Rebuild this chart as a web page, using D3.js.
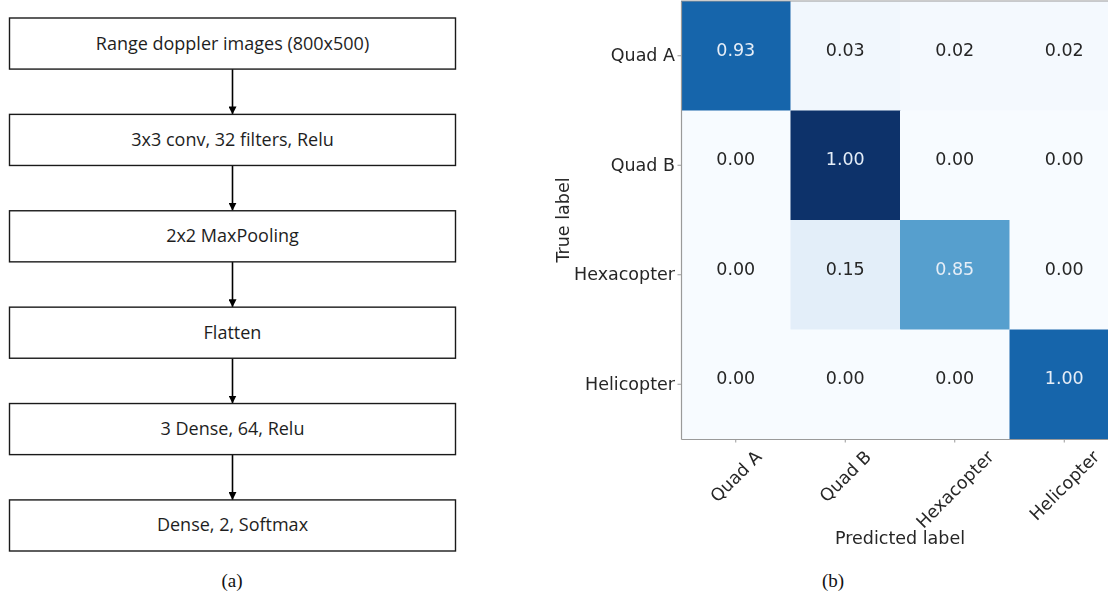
<!DOCTYPE html>
<html>
<head>
<meta charset="utf-8">
<script src="https://cdn.jsdelivr.net/npm/d3@7"></script>
<style>
  html, body { margin: 0; padding: 0; background: #fff; }
  svg { display: block; }
</style>
</head>
<body>
<svg id="fig" width="1108" height="597"></svg>
<script>
// ---- (a) network layers, top to bottom ----
const layers = [
  "Range doppler images (800x500)",
  "3x3 conv, 32 filters, Relu",
  "2x2 MaxPooling",
  "Flatten",
  "3 Dense, 64, Relu",
  "Dense, 2, Softmax"
];

// ---- (b) confusion matrix ----
const classes = ["Quad A", "Quad B", "Hexacopter", "Helicopter"];
// row-normalised rates printed in each cell (rows = true, cols = predicted)
const rates = [
  [0.93, 0.03, 0.02, 0.02],
  [0.00, 1.00, 0.00, 0.00],
  [0.00, 0.15, 0.85, 0.00],
  [0.00, 0.00, 0.00, 1.00]
];
// raw sample counts that drive the cell shading
const counts = [
  [55, 2, 1, 1],
  [0, 69, 0, 0],
  [0, 7, 39, 0],
  [0, 0, 0, 55]
];
const captions = ["(a)", "(b)"];

const svg = d3.select("#fig");
svg.append("rect").attr("width", 1108).attr("height", 597).attr("fill", "#fff");

// ================= (a) flowchart =================
const flowFont = "'Open Sans', Lato, sans-serif";
const boxX0 = 9.5, boxX1 = 455.5;
const boxCx = (boxX0 + boxX1) / 2;
const yBox = d3.scaleBand()
  .domain(d3.range(layers.length))
  .range([18, 551])
  .paddingInner(0.47)
  .paddingOuter(0);

const defs = svg.append("defs");
defs.append("marker")
  .attr("id", "arrowHead")
  .attr("viewBox", "0 0 10 10")
  .attr("refX", 10).attr("refY", 5)
  .attr("markerWidth", 8).attr("markerHeight", 8)
  .attr("markerUnits", "userSpaceOnUse")
  .attr("orient", "auto")
  .append("path")
  .attr("d", "M0,0 L10,5 L0,10 Z")
  .attr("fill", "#000");

defs.append("filter")
  .attr("id", "soft")
  .attr("x", "-5%").attr("y", "-5%").attr("width", "110%").attr("height", "110%")
  .append("feGaussianBlur").attr("stdDeviation", 0.45);

const flow = svg.append("g").attr("class", "flow");

// connecting arrows
flow.selectAll("line.arrow")
  .data(d3.range(layers.length - 1))
  .join("line")
  .attr("class", "arrow")
  .attr("x1", boxCx).attr("x2", boxCx)
  .attr("y1", i => yBox(i) + yBox.bandwidth())
  .attr("y2", i => yBox(i + 1))
  .attr("stroke", "#000")
  .attr("stroke-width", 1.6)
  .attr("marker-end", "url(#arrowHead)");

const boxes = flow.selectAll("g.box")
  .data(layers)
  .join("g")
  .attr("class", "box")
  .attr("transform", (d, i) => `translate(0,${yBox(i)})`);

boxes.append("rect")
  .attr("x", boxX0).attr("y", 0)
  .attr("width", boxX1 - boxX0)
  .attr("height", yBox.bandwidth())
  .attr("fill", "#fff")
  .attr("stroke", "#1a1a1a")
  .attr("stroke-width", 1.4);

boxes.append("text")
  .attr("x", boxCx)
  .attr("y", yBox.bandwidth() / 2 + 6)
  .attr("text-anchor", "middle")
  .attr("font-family", flowFont)
  .attr("font-size", 18)
  .attr("fill", "#1e1e1e")
  .text(d => d);

// ================= (b) confusion matrix =================
const mFont = "'DejaVu Sans', sans-serif";
const mSize = 17.5;
const textDark = "#262626";

const x = d3.scaleBand().domain(classes).range([681, 1119]);
const y = d3.scaleBand().domain(classes).range([1, 439]);
const maxCount = d3.max(counts.flat());
const color = d3.scaleSequential(d3.interpolateBlues).domain([0, maxCount]);

const cm = svg.append("g").attr("class", "matrix").attr("filter", "url(#soft)");

const cells = [];
classes.forEach((t, i) => classes.forEach((p, j) => {
  cells.push({ t, p, rate: rates[i][j], count: counts[i][j] });
}));

cm.selectAll("rect.cell")
  .data(cells)
  .join("rect")
  .attr("class", "cell")
  .attr("x", d => x(d.p))
  .attr("y", d => y(d.t))
  .attr("width", x.bandwidth() + 0.5)
  .attr("height", y.bandwidth() + 0.5)
  .attr("fill", d => color(d.count));

// cell annotations sit slightly above the row centre
cm.selectAll("text.val")
  .data(cells)
  .join("text")
  .attr("class", "val")
  .attr("x", d => x(d.p) + x.bandwidth() / 2)
  .attr("y", d => y(d.t) + y.bandwidth() / 2 - 6)
  .attr("dy", "0.35em")
  .attr("text-anchor", "middle")
  .attr("font-family", mFont)
  .attr("font-size", mSize)
  .attr("fill", d => d.count > maxCount / 2 ? "#e6eef7" : textDark)
  .text(d => d3.format(".2f")(d.rate));

// spines
const spine = "#9a9a9a";
cm.append("line")
  .attr("x1", 681).attr("x2", 1119).attr("y1", 1).attr("y2", 1)
  .attr("stroke", spine).attr("stroke-width", 1.2);

const yAxis = cm.append("g")
  .attr("transform", "translate(681,0)")
  .call(d3.axisLeft(y).tickSize(3.5).tickSizeOuter(0).tickPadding(2.5));
const xAxis = cm.append("g")
  .attr("transform", "translate(0,439)")
  .call(d3.axisBottom(x).tickSize(3.5).tickSizeOuter(0).tickPadding(3));

[yAxis, xAxis].forEach(ax => {
  ax.select(".domain").attr("stroke", spine).attr("stroke-width", 1.2);
  ax.selectAll(".tick line").attr("stroke", spine);
  ax.selectAll(".tick text")
    .attr("font-family", mFont)
    .attr("font-size", mSize)
    .attr("fill", textDark);
});

// rotate the predicted-class labels by 45°, centred under each tick
xAxis.selectAll(".tick text").each(function () {
  const t = d3.select(this);
  const w = this.getComputedTextLength();
  const h = mSize * 0.9;
  const off = 9 + (w + h) / (2 * Math.SQRT2);
  t.attr("x", 0).attr("y", 0).attr("dy", "0.35em")
    .attr("text-anchor", "middle")
    .attr("transform", `translate(0,${off}) rotate(-45)`);
});

cm.append("text")
  .attr("transform", "translate(569,220) rotate(-90)")
  .attr("text-anchor", "middle")
  .attr("font-family", mFont)
  .attr("font-size", mSize)
  .attr("fill", textDark)
  .text("True label");

cm.append("text")
  .attr("x", 900).attr("y", 544)
  .attr("text-anchor", "middle")
  .attr("font-family", mFont)
  .attr("font-size", mSize)
  .attr("fill", textDark)
  .text("Predicted label");

// ================= captions =================
svg.selectAll("text.caption")
  .data(captions)
  .join("text")
  .attr("class", "caption")
  .attr("x", (d, i) => [232, 833][i])
  .attr("y", 587)
  .attr("text-anchor", "middle")
  .attr("font-family", "'Liberation Serif', 'Times New Roman', serif")
  .attr("font-size", 19)
  .attr("fill", "#111")
  .text(d => d);
</script>
</body>
</html>
